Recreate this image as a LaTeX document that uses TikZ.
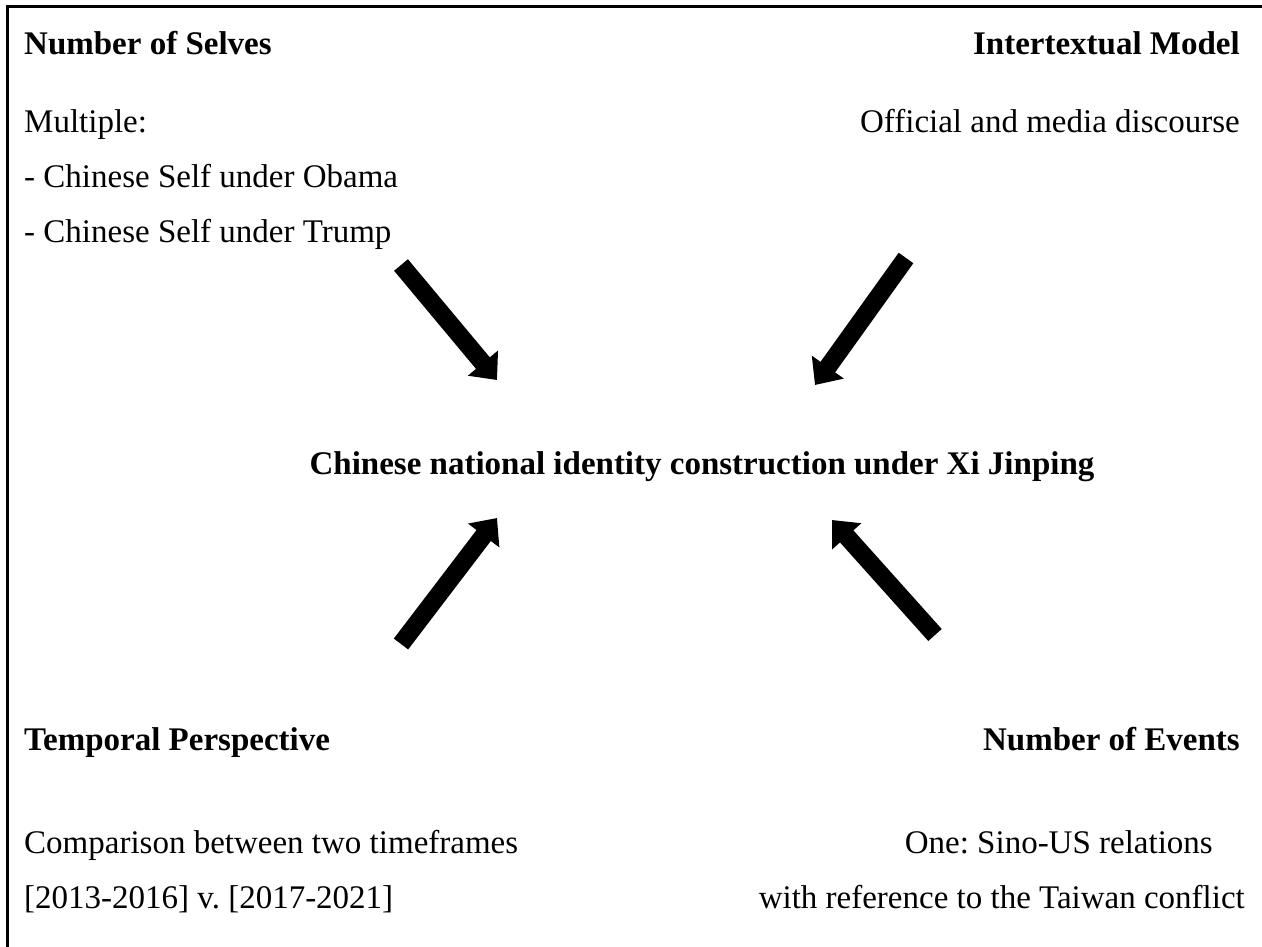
\documentclass[tikz,border=0pt]{standalone}
\usepackage{fontspec}
\setmainfont{Liberation Serif}
\usetikzlibrary{arrows.meta}
\frenchspacing
\begin{document}
\begin{tikzpicture}[x=1pt,y=-1pt,
  txt/.style={inner sep=0pt,font=\fontsize{33}{40}\selectfont},
  hd/.style={inner sep=0pt,font=\fontsize{33}{40}\selectfont\bfseries},
  fat/.style={line width=18pt,-{Triangle[length=22pt,width=38pt]}}]
  \useasboundingbox (0,0) rectangle (1262,947);

  \draw[line width=3pt] (7,947) -- (7,7) -- (1262,7);

  %% upper left
  \node[hd,anchor=base west] (selves) at (24,55) {Number of Selves};
  \node[txt,anchor=base west] (multi) at (24,133) {Multiple:};
  \node[txt,anchor=base west] (obama) at (24,188) {- Chinese Self under Obama};
  \node[txt,anchor=base west] (trump) at (24,243) {- Chinese Self under Trump};

  %% upper right
  \node[hd,anchor=base east] (model) at (1240,55) {Intertextual Model};
  \node[txt,anchor=base east] (disc) at (1240,133) {Official and media discourse};

  %% centre
  \node[hd,anchor=base] (ident) at (702,474)
    {Chinese national identity construction under Xi Jinping};

  %% lower left
  \node[hd,anchor=base west] (temp) at (24,750) {Temporal Perspective};
  \node[txt,anchor=base west] (comp) at (24,853) {Comparison between two timeframes};
  \node[txt,anchor=base west] (years) at (24,908) {[2013-2016] v. [2017-2021]};

  %% lower right
  \node[hd,anchor=base east] (events) at (1240,750) {Number of Events};
  \node[txt,anchor=base east] (sino) at (1213,853) {One: Sino-US relations};
  \node[txt,anchor=base east] (taiwan) at (1245,908) {with reference to the Taiwan conflict};

  %% arrows
  \coordinate (tl-a) at (401,265); \coordinate (tl-b) at (497,380);
  \coordinate (tr-a) at (906,258); \coordinate (tr-b) at (815,385);
  \coordinate (bl-a) at (401,644); \coordinate (bl-b) at (497,518);
  \coordinate (br-a) at (935,635); \coordinate (br-b) at (832,520);
  \draw[fat] (tl-a) -- (tl-b);
  \draw[fat] (tr-a) -- (tr-b);
  \draw[fat] (bl-a) -- (bl-b);
  \draw[fat] (br-a) -- (br-b);
\end{tikzpicture}
\end{document}
